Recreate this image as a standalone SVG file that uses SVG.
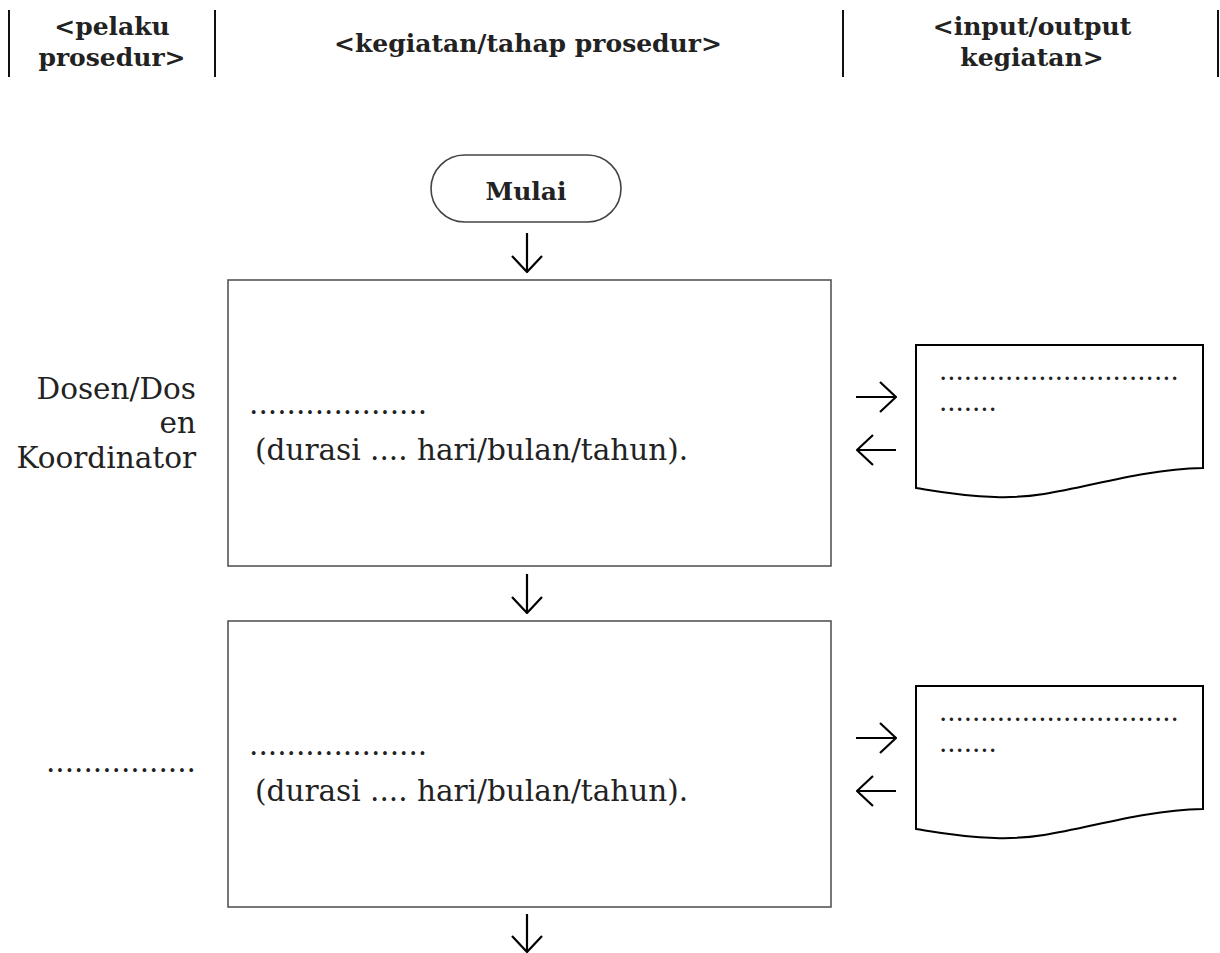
<svg xmlns="http://www.w3.org/2000/svg" width="1220" height="953" viewBox="0 0 1220 953">
<style>
.hd{font-family:"DejaVu Serif","Liberation Serif",serif;font-weight:bold;font-size:25px;fill:#222;text-anchor:middle}
.sep{stroke:#111;stroke-width:2}
.tx{font-family:"DejaVu Serif","Liberation Serif",serif;font-size:29.5px;fill:#222}
.dt{font-family:"DejaVu Serif","Liberation Serif",serif;font-size:26px;fill:#222}
.lb{font-family:"DejaVu Serif","Liberation Serif",serif;font-size:29.5px;fill:#222;text-anchor:end}
.box{fill:#fff;stroke:#555;stroke-width:1.6}
.doc{fill:#fff;stroke:#000;stroke-width:2}
.term{fill:#fff;stroke:#444;stroke-width:1.6}
.cn{fill:none;stroke:#000;stroke-width:2.2;marker-end:url(#ah)}
</style>
<defs>
<marker id="ah" viewBox="0 0 18 32" refX="17" refY="16" markerWidth="18" markerHeight="32" markerUnits="userSpaceOnUse" orient="auto">
<path d="M1,1 L17,16 L1,31" fill="none" stroke="#000" stroke-width="2.2"/>
</marker>
</defs>
<rect width="1220" height="953" fill="#fff"/>
<g id="header">
<line class="sep" x1="9" y1="10" x2="9" y2="77"/>
<line class="sep" x1="215" y1="10" x2="215" y2="77"/>
<line class="sep" x1="843" y1="10" x2="843" y2="77"/>
<line class="sep" x1="1218" y1="10" x2="1218" y2="77"/>
<text class="hd" x="112" y="35">&lt;pelaku</text>
<text class="hd" x="112" y="66">prosedur&gt;</text>
<text class="hd" x="528" y="52">&lt;kegiatan/tahap prosedur&gt;</text>
<text class="hd" x="1032" y="35">&lt;input/output</text>
<text class="hd" x="1032" y="66">kegiatan&gt;</text>
</g>
<g id="mulai">
<rect class="term" x="431" y="155" width="190" height="67" rx="33.5"/>
<text x="526" y="200" style="font-family:'DejaVu Serif','Liberation Serif',serif;font-weight:bold;font-size:25px;fill:#222;text-anchor:middle">Mulai</text>
</g>
<g id="actor1">
<text class="lb" x="196" y="399">Dosen/Dos</text>
<text class="lb" x="196" y="433">en</text>
<text class="lb" x="196" y="468">Koordinator</text>
</g>
<g id="step1">
<rect class="box" x="228" y="280" width="603" height="286"/>
<text class="tx" x="249" y="414">...................</text>
<text class="tx" x="255" y="460">(durasi .... hari/bulan/tahun).</text>
</g>
<g id="doc1">
<path class="doc" d="M916,345 H1203 V468 C1120,470 1060,500 995,497 C960,496 935,491 916,488 Z"/>
<text class="dt" x="939" y="380">.............................</text>
<text class="dt" x="939" y="411">.......</text>
</g>
<g id="actor2">
<text class="lb" x="196" y="772">................</text>
</g>
<g id="step2">
<rect class="box" x="228" y="621" width="603" height="286"/>
<text class="tx" x="249" y="755">...................</text>
<text class="tx" x="255" y="801">(durasi .... hari/bulan/tahun).</text>
</g>
<g id="doc2">
<path class="doc" d="M916,686 H1203 V809 C1120,811 1060,841 995,838 C960,837 935,832 916,829 Z"/>
<text class="dt" x="939" y="721">.............................</text>
<text class="dt" x="939" y="752">.......</text>
</g>
<g id="connectors">
<path class="cn" d="M527,233 V272"/>
<path class="cn" d="M527,574 V613"/>
<path class="cn" d="M527,914 V952"/>
<path class="cn" d="M856,397 H896"/>
<path class="cn" d="M896,450 H857"/>
<path class="cn" d="M856,738 H896"/>
<path class="cn" d="M896,791 H857"/>
</g>
</svg>
